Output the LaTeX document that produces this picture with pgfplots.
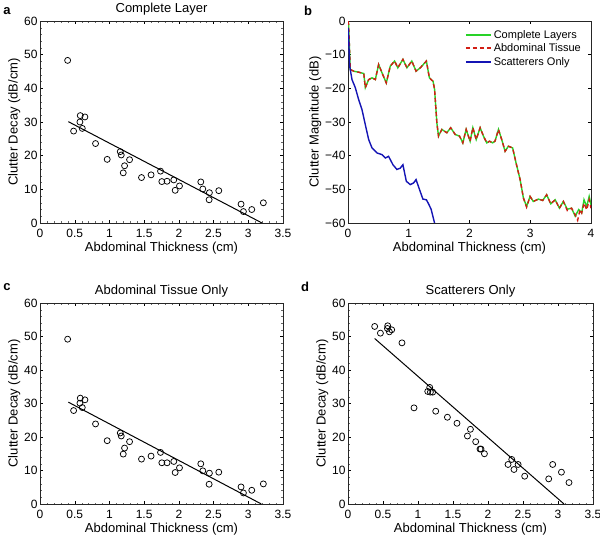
\documentclass[border=0pt]{standalone}
\usepackage{fontspec}
\setmainfont{Liberation Sans}
\usepackage{pgfplots}
\pgfplotsset{compat=1.18}
\definecolor{cgreen}{RGB}{40,210,40}
\definecolor{cred}{RGB}{210,30,20}
\definecolor{cblue}{RGB}{20,20,180}
\tikzset{
  gline/.style={color=cgreen, draw=cgreen, line width=1.4pt},
  rline/.style={color=cred, draw=cred, line width=1.4pt, dash pattern=on 4pt off 3pt},
  bline/.style={color=cblue, draw=cblue, line width=1.4pt},
}
\pgfplotsset{
  base/.style={
    scale only axis, width=243pt, height=202pt,
    tick align=inside,
    major tick length=3pt, minor tick length=1.5pt,
    every tick/.style={black, line width=0.4pt},
    minor tick style={black!60, line width=0.3pt},
    axis line style={line width=0.5pt, black!85},
    tick label style={font=\fontsize{12}{14}\selectfont},
    label style={font=\fontsize{13}{15}\selectfont},
    title style={font=\fontsize{13}{15}\selectfont, yshift=-4pt},
    /pgf/number format/assume math mode=true,
    xlabel={Abdominal Thickness (cm)},
    xlabel style={yshift=3pt},
    ylabel style={yshift=-3pt},
    xticklabel style={yshift=-3pt},
    yticklabel style={xshift=1pt},
  },
  scat/.style={
    base,
    xmin=0,xmax=3.5,ymin=0,ymax=60,
    xtick={0,0.5,...,3.5}, ytick={0,10,...,60},
    minor x tick num=4, minor y tick num=4,
    ylabel={Clutter Decay (dB/cm)},
  },
  pts/.style={only marks, mark=o, mark size=3pt, line width=0.75pt, black},
  fit/.style={black, line width=1pt},
}
\begin{document}
\begin{tikzpicture}
\path[use as bounding box] (0,0) rectangle (600pt,536pt);
% panel a
\begin{axis}[scat, at={(40pt,313pt)}, anchor=south west, title={Complete Layer}]
\addplot[pts] coordinates {
(0.398,48.3) (0.484,27.3) (0.58,31.9) (0.647,31.5) (0.575,30.0) (0.609,28.1)
(0.80,23.6) (0.968,18.9) (1.156,21.2) (1.170,20.2) (1.199,14.9) (1.218,17.0)
(1.29,18.8) (1.462,13.5) (1.60,14.3) (1.736,15.4) (1.755,12.3) (1.83,12.4)
(1.927,12.8) (1.947,9.7) (2.009,11.0) (2.316,12.2) (2.345,10.1) (2.44,9.0)
(2.436,6.9) (2.575,9.6) (2.896,5.6) (2.93,3.4) (3.05,4.0) (3.217,6.0)
};
\addplot[fit] coordinates {(0.408,30.1) (3.198,0)};
\end{axis}
% panel b
\begin{axis}[base, at={(348pt,313pt)}, anchor=south west, width=243pt,
  xmin=0,xmax=4,ymin=-60,ymax=0,
  xtick={0,1,2,3,4}, ytick={-60,-50,-40,-30,-20,-10,0},
  yticklabels={−60,−50,−40,−30,−20,−10,0},
  ylabel={Clutter Magnitude (dB)},
  legend style={draw=none, fill=none, at={(1,1)}, anchor=north east,
    font=\fontsize{11}{13}\selectfont, row sep=0.3pt, inner sep=1pt, xshift=-7pt, yshift=-6pt},
  legend cell align=left,
]
\addplot[gline, legend image code/.code={\draw[gline, line width=1.9pt] (0pt,0.3pt) -- (25pt,0.3pt);}] coordinates {
(0,0) (0.01,-1) (0.02,-6) (0.03,-11) (0.038,-14.4) (0.093,-14.9) (0.175,-15.2) (0.26,-15.6)
(0.285,-19.8) (0.34,-17.4) (0.395,-16.9) (0.45,-17.4) (0.504,-12.9) (0.56,-15.4)
(0.63,-18.4) (0.696,-13.4) (0.767,-11.9) (0.82,-13.9) (0.904,-11.4) (0.97,-13.9)
(1.05,-11.9) (1.12,-14.9) (1.19,-13.9) (1.29,-11.9) (1.34,-16.9) (1.40,-17.9)
(1.425,-20.3) (1.463,-30.3) (1.49,-34.2) (1.545,-32.2) (1.627,-33.2) (1.69,-31.7)
(1.764,-33.7) (1.836,-34.2) (1.89,-36.2) (1.945,-32.2) (2.01,-35.7) (2.055,-31.7)
(2.11,-35.2) (2.175,-31.7) (2.23,-34.2) (2.285,-36.2) (2.33,-35.7) (2.38,-36.2)
(2.42,-35.7) (2.477,-32.2) (2.53,-35.2) (2.586,-38.7) (2.64,-37.2) (2.71,-37.7)
(2.767,-42.2) (2.833,-47.1) (2.888,-52.6) (2.94,-55.1) (2.997,-52.1) (3.05,-53.6)
(3.134,-52.9) (3.205,-53.3) (3.27,-51.6) (3.337,-54.3) (3.41,-53.1) (3.48,-55.6)
(3.545,-53.6) (3.61,-55.9) (3.68,-55.6) (3.74,-58.0) (3.797,-56.0) (3.847,-57.0)
(3.885,-53.1) (3.93,-55.1) (3.97,-52.1) (4.0,-54.6)
};
\addlegendentry{Complete Layers}
\addplot[rline, legend image code/.code={\draw[rline, line width=1.9pt] (0pt,0.3pt) -- (25pt,0.3pt);}] coordinates {
(0,0) (0.01,-1) (0.02,-6) (0.03,-11) (0.038,-14.4) (0.093,-14.9) (0.175,-15.2) (0.26,-15.6)
(0.285,-19.8) (0.34,-17.4) (0.395,-16.9) (0.45,-17.4) (0.504,-12.9) (0.56,-15.4)
(0.63,-18.4) (0.696,-13.4) (0.767,-11.9) (0.82,-13.9) (0.904,-11.4) (0.97,-13.9)
(1.05,-11.9) (1.12,-14.9) (1.19,-13.9) (1.29,-11.9) (1.34,-16.9) (1.40,-17.9)
(1.425,-20.3) (1.463,-30.3) (1.49,-34.2) (1.545,-32.2) (1.627,-33.2) (1.69,-31.7)
(1.764,-33.7) (1.836,-34.2) (1.89,-36.2) (1.945,-32.2) (2.01,-35.7) (2.055,-31.7)
(2.11,-35.2) (2.175,-31.7) (2.23,-34.2) (2.285,-36.2) (2.33,-35.7) (2.38,-36.2)
(2.42,-35.7) (2.477,-32.2) (2.53,-35.2) (2.586,-38.7) (2.64,-37.2) (2.71,-37.7)
(2.767,-42.2) (2.833,-47.1) (2.888,-52.6) (2.94,-55.3) (2.997,-52.1) (3.05,-53.6)
(3.134,-52.9) (3.205,-53.3) (3.27,-51.6) (3.337,-54.3) (3.41,-53.1) (3.48,-55.6)
(3.545,-53.6) (3.61,-56.3) (3.68,-55.6) (3.74,-57.5) (3.78,-59.2) (3.82,-56.0) (3.847,-57.0)
(3.885,-54.1) (3.93,-56.1) (3.97,-53.1) (4.0,-55.6)
};
\addlegendentry{Abdominal Tissue}
\addplot[bline, legend image code/.code={\draw[bline, line width=1.9pt] (0pt,0.3pt) -- (25pt,0.3pt);}] coordinates {
(0,-2) (0.01,-4.5) (0.027,-13.4) (0.066,-17.4) (0.12,-19.8) (0.175,-23.3)
(0.23,-26.3) (0.285,-30.8) (0.34,-35.2) (0.395,-37.7) (0.477,-39.2) (0.56,-39.7)
(0.614,-40.7) (0.668,-40.2) (0.74,-42.7) (0.805,-44.1) (0.86,-43.7) (0.904,-42.7)
(0.96,-47.6) (1.025,-48.6) (1.08,-48.1) (1.12,-47.1) (1.178,-50.1) (1.233,-52.9)
(1.29,-53.1) (1.326,-54.3) (1.37,-56.0) (1.397,-58.0) (1.425,-60.0)
};
\addlegendentry{Scatterers Only}
\end{axis}
% panel c
\begin{axis}[scat, at={(40pt,32pt)}, anchor=south west, height=201pt, title={Abdominal Tissue Only}]
\addplot[pts] coordinates {
(0.398,49.2) (0.484,27.9) (0.58,31.6) (0.647,31.1) (0.575,30.1) (0.609,28.8)
(0.80,23.9) (0.968,18.9) (1.156,21.2) (1.17,20.3) (1.199,14.9) (1.218,16.7)
(1.29,18.6) (1.462,13.4) (1.60,14.3) (1.736,15.4) (1.755,12.3) (1.83,12.3)
(1.927,12.7) (1.947,9.4) (2.009,10.8) (2.316,12.0) (2.345,9.9) (2.44,9.2)
(2.436,5.9) (2.575,9.5) (2.896,5.1) (2.93,3.3) (3.05,4.1) (3.217,6.0)
};
\addplot[fit] coordinates {(0.408,30.4) (3.188,0)};
\end{axis}
% panel d
\begin{axis}[scat, at={(348pt,32pt)}, anchor=south west, width=245pt, height=201pt, title={Scatterers Only}]
\addplot[pts] coordinates {
(0.381,53.0) (0.463,51.0) (0.567,53.2) (0.563,52.4) (0.591,51.4) (0.624,52.0)
(0.771,48.1) (0.943,28.7) (1.139,33.6) (1.167,34.8) (1.177,33.4) (1.210,33.4)
(1.253,27.7) (1.42,25.9) (1.557,24.1) (1.749,22.3) (1.706,20.3) (1.824,18.6)
(1.886,16.4) (1.90,16.4) (1.949,15.0) (2.286,11.8) (2.339,13.3) (2.371,10.3)
(2.43,11.8) (2.524,8.3) (2.867,7.5) (2.924,11.8) (3.049,9.5) (3.157,6.4)
};
\addplot[fit] coordinates {(0.381,49.4) (3.086,0)};
\end{axis}
\node[font=\bfseries\fontsize{13}{13}\selectfont] at (7pt,525pt) {a};
\node[font=\bfseries\fontsize{13}{13}\selectfont] at (308pt,525pt) {b};
\node[font=\bfseries\fontsize{13}{13}\selectfont] at (7pt,249pt) {c};
\node[font=\bfseries\fontsize{13}{13}\selectfont] at (305pt,249pt) {d};
\end{tikzpicture}
\end{document}
